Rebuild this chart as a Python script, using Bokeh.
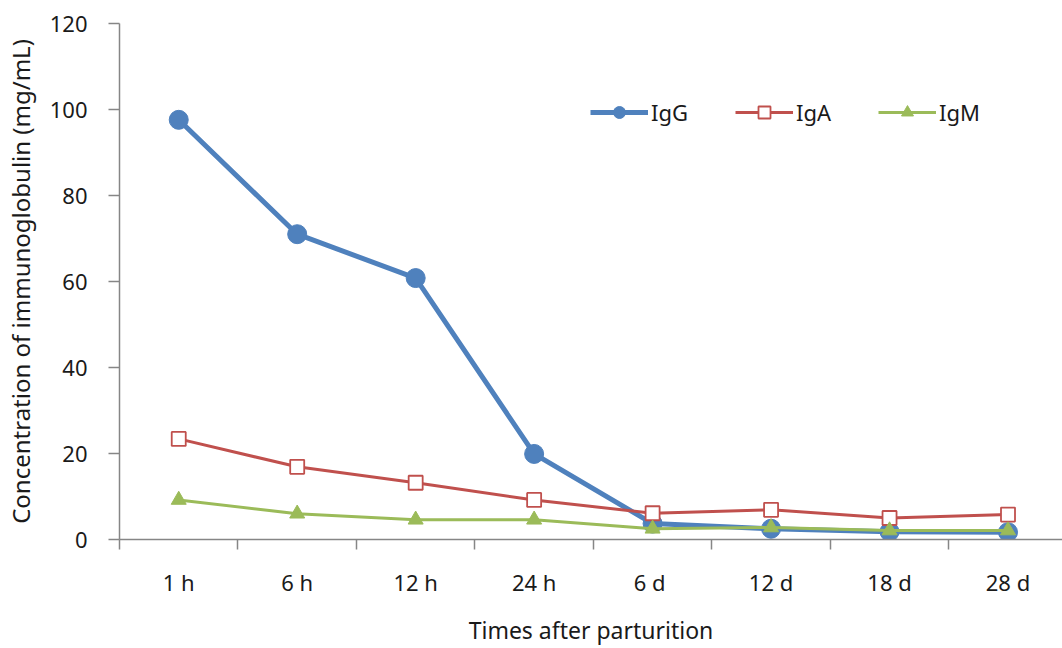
from bokeh.plotting import figure
from bokeh.models import FixedTicker, Legend, LegendItem, Range1d
from bokeh.embed import file_html
from bokeh.resources import INLINE

categories = ["1 h", "6 h", "12 h", "24 h", "6  d", "12 d", "18 d", "28 d"]
igg = [97.6, 71.0, 60.8, 19.9, 3.7, 2.5, 1.8, 1.7]
iga = [23.4, 16.9, 13.2, 9.2, 6.1, 6.9, 5.0, 5.8]
igm = [9.2, 6.0, 4.6, 4.6, 2.5, 2.8, 2.1, 2.1]
y_ticks = [0, 20, 40, 60, 80, 100, 120]

FONT = "Noto Sans"
AX = "#868686"
TXT = "#1a1a1a"

xs = list(range(len(categories)))

p = figure(width=1062, height=648, output_backend="svg", toolbar_location=None,
           x_range=Range1d(-0.5, 7.46), y_range=Range1d(0, 120),
           min_border_left=119, min_border_right=0, min_border_top=23, min_border_bottom=109)
p.outline_line_color = None
p.grid.grid_line_color = None
p.background_fill_color = "white"

# X axis: labels at category centers, tick marks between categories
p.xaxis.ticker = FixedTicker(ticks=xs, minor_ticks=[i - 0.5 for i in range(len(categories) + 1)])
p.xaxis.major_label_overrides = {i: c for i, c in enumerate(categories)}
p.xaxis.major_tick_line_color = None
p.xaxis.major_tick_in = 0
p.xaxis.major_tick_out = 0
p.xaxis.minor_tick_in = 0
p.xaxis.minor_tick_out = 10
p.xaxis.minor_tick_line_color = AX
p.xaxis.minor_tick_line_width = 1.5
p.xaxis.axis_line_color = AX
p.xaxis.axis_line_width = 1.5
p.xaxis.major_label_standoff = 17
p.xaxis.major_label_text_font = FONT
p.xaxis.major_label_text_font_size = "22px"
p.xaxis.major_label_text_color = TXT
p.xaxis.axis_label = "Times after parturition"
p.xaxis.axis_label_text_font = FONT
p.xaxis.axis_label_text_font_size = "23px"
p.xaxis.axis_label_text_font_style = "normal"
p.xaxis.axis_label_text_color = TXT
p.xaxis.axis_label_standoff = 14

# Y axis
p.yaxis.ticker = FixedTicker(ticks=y_ticks)
p.yaxis.minor_tick_line_color = None
p.yaxis.major_tick_in = 0
p.yaxis.major_tick_out = 11
p.yaxis.major_tick_line_color = AX
p.yaxis.major_tick_line_width = 1.5
p.yaxis.axis_line_color = AX
p.yaxis.axis_line_width = 1.5
p.yaxis.major_label_standoff = 21
p.yaxis.major_label_text_font = FONT
p.yaxis.major_label_text_font_size = "22px"
p.yaxis.major_label_text_color = TXT
p.yaxis.axis_label = "Concentration of immunoglobulin (mg/mL)"
p.yaxis.axis_label_text_font = FONT
p.yaxis.axis_label_text_font_size = "24px"
p.yaxis.axis_label_text_font_style = "normal"
p.yaxis.axis_label_text_color = TXT
p.yaxis.axis_label_standoff = 10

BLUE = "#4F81BD"
RED = "#C0504D"
GREEN = "#9BBB59"

l1 = p.line(xs, igg, line_color=BLUE, line_width=5)
s1 = p.scatter(xs, igg, marker="circle", size=19, fill_color=BLUE, line_color=BLUE)
l2 = p.line(xs, iga, line_color=RED, line_width=3)
s2 = p.scatter(xs, iga, marker="square", size=14, fill_color="white", line_color=RED, line_width=1.8)
l3 = p.line(xs, igm, line_color=GREEN, line_width=3)
s3 = p.scatter(xs, igm, marker="triangle", size=15, fill_color=GREEN, line_color=GREEN)

legend = Legend(items=[LegendItem(label="IgG", renderers=[l1, s1]),
                       LegendItem(label="IgA", renderers=[l2, s2]),
                       LegendItem(label="IgM", renderers=[l3, s3])],
                location=(471, 412), orientation="horizontal",
                glyph_width=58, glyph_height=30, label_height=30, label_standoff=3,
                spacing=47, padding=0, margin=0,
                border_line_color=None, background_fill_alpha=0,
                label_text_font=FONT, label_text_font_size="22px", label_text_color=TXT)
p.add_layout(legend)

open("out.html", "w").write(file_html(p, INLINE))
